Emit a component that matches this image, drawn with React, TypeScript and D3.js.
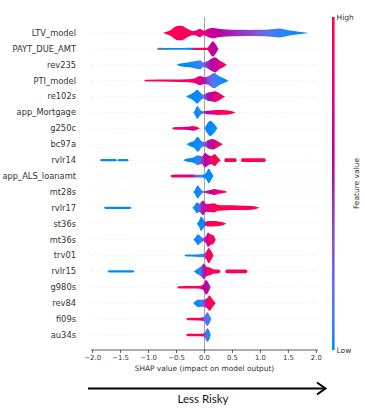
import React, { useMemo } from 'react'
import * as d3 from 'd3'

// [shap value, density 0..1, feature value 0..1 (null = missing)]
type Knot = [number, number, number | null]

const features = [
  'LTV_model', 'PAYT_DUE_AMT', 'rev235', 'PTI_model', 're102s', 'app_Mortgage', 'g250c',
  'bc97a', 'rvlr14', 'app_ALS_loanamt', 'mt28s', 'rvlr17', 'st36s', 'mt36s', 'trv01',
  'rvlr15', 'g980s', 'rev84', 'fi09s', 'au34s',
]

const ltvModel: Knot[] = [
  [-0.74, 0, 1], [-0.68, 0.15, 1], [-0.6, 0.4, 1], [-0.54, 0.75, 1], [-0.47, 0.97, 0.97],
  [-0.41, 0.97, 0.96], [-0.35, 0.75, 0.95], [-0.28, 0.45, 0.92], [-0.2, 0.25, 0.88], [-0.14, 0.35, 0.85],
  [-0.08, 0.55, 0.82], [-0.02, 0.3, 0.78], [0.05, 0.5, 0.7], [0.14, 0.7, 0.65],
  [0.25, 0.55, 0.6], [0.4, 0.45, 0.52], [0.6, 0.42, 0.45], [0.8, 0.4, 0.38], [1.0, 0.42, 0.25],
  [1.15, 0.45, 0.15], [1.34, 0.58, 0.05], [1.5, 0.35, 0.02], [1.65, 0.2, 0], [1.8, 0.08, 0],
  [1.86, 0, 0],
]
const paytDueAmt: Knot[] = [
  [-0.85, 0, null], [-0.82, 0.15, null], [-0.76, 0.15, null], [-0.74, 0.12, 0], [-0.4, 0.12, 0],
  [-0.22, 0.14, 0], [-0.2, 0.14, 1], [0.05, 0.14, 1], [0.09, 0.5, 0.7], [0.15, 1.0, 0.6],
  [0.2, 0.6, 0.6], [0.25, 0, 0.6],
]
const rev235: Knot[] = [
  [-0.5, 0, 0], [-0.45, 0.15, 0], [-0.3, 0.3, 0], [-0.18, 0.45, 0.02], [-0.08, 0.6, 0.05],
  [-0.02, 0.3, 0.2], [0.05, 0.45, 0.45], [0.12, 0.8, 0.55], [0.19, 1.0, 0.6], [0.27, 0.55, 0.75],
  [0.35, 0.25, 0.95], [0.4, 0, 1],
]
const ptiModel: Knot[] = [
  [-1.08, 0, 1], [-1.05, 0.12, 1], [-0.6, 0.14, 1], [-0.3, 0.2, 0.95], [-0.18, 0.3, 0.9],
  [-0.08, 0.6, 0.75], [0.0, 0.45, 0.5], [0.08, 0.6, 0.3], [0.17, 1.0, 0.1], [0.26, 0.6, 0.03],
  [0.35, 0.3, 0], [0.43, 0, 0],
]
const re102s: Knot[] = [
  [-0.33, 0, 0], [-0.28, 0.2, 0], [-0.2, 0.5, 0], [-0.13, 0.9, 0], [-0.07, 0.5, 0.02],
  [-0.02, 0.25, 0.2], [0.05, 0.5, 0.5], [0.12, 0.6, 0.6], [0.19, 0.7, 0.75], [0.27, 0.45, 0.95],
  [0.33, 0.15, 1], [0.37, 0, 1],
]
const appMortgage: Knot[] = [
  [-0.2, 0, 0], [-0.17, 0.3, 0], [-0.13, 0.85, 0], [-0.08, 0.4, 0.05], [-0.03, 0.15, 0.3],
  [0.05, 0.22, 0.55], [0.15, 0.28, 0.75], [0.25, 0.32, 0.95], [0.38, 0.3, 1], [0.48, 0.2, 1],
  [0.56, 0, 1],
]
const g250c: Knot[] = [
  [-0.58, 0, 0.9], [-0.55, 0.15, 0.95], [-0.4, 0.18, 0.9], [-0.28, 0.2, 0.6], [-0.2, 0.3, 0.8],
  [-0.12, 0.15, 0.9], [-0.07, 0, 0.8], [0.0, 0, 0], [0.03, 0.4, 0], [0.1, 1.0, 0],
  [0.17, 0.6, 0], [0.23, 0, 0],
]
const bc97a: Knot[] = [
  [-0.32, 0, 0], [-0.26, 0.25, 0], [-0.18, 0.5, 0], [-0.12, 1.0, 0], [-0.06, 0.45, 0.05],
  [0.0, 0.25, 0.3], [0.07, 0.55, 0.5], [0.15, 0.7, 0.65], [0.22, 0.45, 0.9], [0.28, 0.2, 1],
  [0.33, 0, 1],
]
const rvlr14: Knot[] = [
  [-1.87, 0, 0], [-1.84, 0.15, 0], [-1.6, 0.15, 0], [-1.56, 0.05, 0], [-1.52, 0.15, 0],
  [-1.38, 0.15, 0], [-1.35, 0, 0], [-0.38, 0, 0], [-0.34, 0.15, 0], [-0.2, 0.35, 0],
  [-0.12, 0.65, 0.05], [-0.05, 0.5, 0.35], [0.01, 0.95, 0.55], [0.08, 0.6, 0.7],
  [0.13, 0.55, 0.85], [0.18, 0.8, 0.95], [0.24, 0.35, 1], [0.3, 0, 1], [0.35, 0, 1],
  [0.37, 0.25, 1], [0.56, 0.25, 1], [0.58, 0, 1], [0.65, 0, 1], [0.67, 0.25, 1],
  [1.07, 0.25, 1], [1.1, 0, 1],
]
const appAlsLoanamt: Knot[] = [
  [-0.61, 0, 0.9], [-0.58, 0.18, 1], [-0.45, 0.2, 0.7], [-0.35, 0.2, 0.9], [-0.25, 0.2, 0.6],
  [-0.15, 0.18, 0.3], [-0.05, 0.18, 0.05], [0.02, 0.35, 0], [0.08, 0.95, 0], [0.12, 0.5, 0],
  [0.16, 0, 0],
]
const mt28s: Knot[] = [
  [-0.2, 0, 0], [-0.17, 0.3, 0], [-0.12, 0.85, 0], [-0.07, 0.4, 0.05], [-0.02, 0.12, 0.2],
  [0.05, 0.2, 0.5], [0.12, 0.3, 0.65], [0.18, 0.4, 0.75], [0.26, 0.25, 0.9], [0.35, 0.15, 1],
  [0.41, 0, 1],
]
const rvlr17: Knot[] = [
  [-1.8, 0, 0], [-1.77, 0.15, 0], [-1.33, 0.15, 0], [-1.3, 0, 0], [-0.22, 0, 0],
  [-0.18, 0.3, 0], [-0.14, 0.7, 0], [-0.09, 0.55, 0.3], [-0.03, 0.95, 0.5], [0.03, 0.5, 0.75],
  [0.1, 0.55, 0.9], [0.17, 0.6, 1], [0.24, 0.38, 1], [0.4, 0.33, 1], [0.6, 0.3, 1],
  [0.85, 0.24, 1], [0.99, 0, 1],
]
const st36s: Knot[] = [
  [-0.14, 0, 0], [-0.1, 0.35, 0], [-0.06, 0.95, 0], [-0.02, 0.6, 0.02], [0.02, 0.25, 0.5],
  [0.06, 0.35, 1], [0.15, 0.35, 1], [0.25, 0.3, 1], [0.33, 0.2, 1], [0.39, 0, 1],
]
const mt36s: Knot[] = [
  [-0.2, 0, 0], [-0.16, 0.3, 0], [-0.12, 0.7, 0], [-0.07, 0.45, 0.05], [-0.02, 0.2, 0.3],
  [0.03, 0.5, 0.6], [0.06, 0.95, 0.7], [0.11, 0.7, 0.9], [0.16, 0.55, 1], [0.2, 0, 1],
]
const trv01: Knot[] = [
  [-0.36, 0, 0], [-0.33, 0.12, 0], [-0.15, 0.15, 0], [-0.05, 0.2, 0.05], [0.0, 0.3, 0.3],
  [0.04, 0.6, 0.8], [0.07, 1.0, 0.95], [0.12, 0.6, 1], [0.16, 0, 1],
]
const rvlr15: Knot[] = [
  [-1.73, 0, 0], [-1.7, 0.15, 0], [-1.28, 0.15, 0], [-1.25, 0, 0], [-0.2, 0, 0],
  [-0.14, 0.3, 0], [-0.07, 0.6, 0.05], [-0.01, 1.0, 0.5], [0.04, 0.6, 0.8], [0.1, 0.5, 1],
  [0.15, 0.3, 1], [0.26, 0.25, 1], [0.29, 0, 1], [0.37, 0, 1], [0.39, 0.25, 1],
  [0.74, 0.25, 1], [0.77, 0, 1],
]
const g980s: Knot[] = [
  [-0.49, 0, 1], [-0.46, 0.15, 1], [-0.2, 0.17, 1], [-0.08, 0.2, 0.9], [-0.02, 0.4, 0.7],
  [0.03, 0.95, 0.6], [0.07, 0.6, 0.5], [0.11, 0, 0.5],
]
const rev84: Knot[] = [
  [-0.2, 0, 0], [-0.16, 0.3, 0], [-0.11, 0.5, 0], [-0.05, 0.45, 0.1], [0.0, 0.5, 0.4],
  [0.05, 0.7, 0.8], [0.09, 1.0, 1], [0.14, 0.55, 1], [0.2, 0, 1],
]
const fi09s: Knot[] = [
  [-0.33, 0, 1], [-0.3, 0.15, 1], [-0.12, 0.17, 1], [-0.05, 0.2, 0.7], [0.0, 0.35, 0.3],
  [0.05, 0.9, 0.1], [0.09, 0.5, 0.05], [0.12, 0, 0],
]
const au34s: Knot[] = [
  [-0.33, 0, 1], [-0.3, 0.15, 1], [-0.1, 0.17, 1], [-0.02, 0.2, 0.9], [0.01, 0.4, 0.3],
  [0.05, 0.9, 0.05], [0.09, 0.5, 0], [0.11, 0, 0],
]

const violins = [
  ltvModel, paytDueAmt, rev235, ptiModel, re102s, appMortgage, g250c, bc97a, rvlr14,
  appAlsLoanamt, mt28s, rvlr17, st36s, mt36s, trv01, rvlr15, g980s, rev84, fi09s, au34s,
]

const xTicks = [-2, -1.5, -1, -0.5, 0, 0.5, 1, 1.5, 2]

const W = 365
const H = 418
const font = '"DejaVu Sans", sans-serif'

// shap red_blue colormap, approximated in HCL
const colour = d3.scaleLinear<string>()
  .domain([0, 0.5, 1])
  .range(['#008bfb', d3.hcl(323.6, 80, 40).formatHex(), '#ff0052'])
  .interpolate(d3.interpolateHcl)

const App = () => {
  const x = useMemo(() => d3.scaleLinear().domain([-2.03, 2.03]).range([91, 318]), [])
  const y = useMemo(() => d3.scalePoint<string>().domain(features).range([33, 335]), [])
  const w = d3.scaleLinear().domain([0, 1]).range([0, 7.6])
  const axisY = 350
  const top = 17

  const shapes = features.map((f, i) => {
    const knots = violins[i]
    const yc = y(f) as number
    const area = d3.area<Knot>()
      .x(d => x(d[0]))
      .y0(d => yc - w(d[1]))
      .y1(d => yc + w(d[1]))
      .curve(d3.curveMonotoneX)
    const x1 = x(knots[0][0])
    const x2 = x(knots[knots.length - 1][0])
    const stops = knots.map(k => ({
      offset: (x(k[0]) - x1) / (x2 - x1),
      color: k[2] === null ? '#777777' : colour(k[2]),
    }))
    return { f, yc, d: area(knots) as string, x1, x2, stops }
  })

  const fmt = d3.format('.1f')

  return (
    <svg width={W} height={H} style={{ position: 'absolute', left: 0, top: 0, background: '#fff' }}>
      <defs>
        {shapes.map((s, i) => (
          <linearGradient key={s.f} id={`vg${i}`} gradientUnits="userSpaceOnUse" x1={s.x1} x2={s.x2} y1={0} y2={0}>
            {s.stops.map((st, j) => <stop key={j} offset={st.offset} stopColor={st.color} />)}
          </linearGradient>
        ))}
        <linearGradient id="cbar" x1={0} x2={0} y1={1} y2={0}>
          {d3.range(0, 1.01, 0.1).map(t => <stop key={t} offset={t} stopColor={colour(t)} />)}
        </linearGradient>
      </defs>

      {/* row guides */}
      {shapes.map(s => (
        <line key={s.f} x1={x.range()[0]} x2={x.range()[1]} y1={s.yc} y2={s.yc}
          stroke="#cccccc" strokeWidth={0.6} strokeDasharray="0.6,2" />
      ))}
      <line x1={x(0)} x2={x(0)} y1={top} y2={axisY} stroke="#999" strokeWidth={0.9} />

      {shapes.map((s, i) => <path key={s.f} d={s.d} fill={`url(#vg${i})`} />)}

      {shapes.map(s => (
        <text key={s.f} x={76} y={s.yc} dy="0.35em" textAnchor="end" fontFamily={font} fontSize={8.3} fill="#333">{s.f}</text>
      ))}

      {/* x axis */}
      <line x1={x.range()[0]} x2={x.range()[1]} y1={axisY} y2={axisY} stroke="#333" strokeWidth={0.8} />
      {xTicks.map(t => (
        <g key={t} transform={`translate(${x(t)},${axisY})`}>
          <line y2={3} stroke="#333" strokeWidth={0.8} />
          <text y={9.8} textAnchor="middle" fontFamily={font} fontSize={6.9} fill="#333">{fmt(t)}</text>
        </g>
      ))}
      <text x={x(0)} y={371} textAnchor="middle" fontFamily={font} fontSize={7.4} fill="#333">
        SHAP value (impact on model output)
      </text>

      {/* colour bar */}
      <rect x={332} y={top} width={2.6} height={axisY - top} fill="url(#cbar)" />
      <text x={336.5} y={top} dy="0.35em" fontFamily={font} fontSize={7.5} fill="#333">High</text>
      <text x={336.5} y={axisY} dy="0.35em" fontFamily={font} fontSize={7.5} fill="#333">Low</text>
      <text transform={`translate(359,${(top + axisY) / 2}) rotate(-90)`} textAnchor="middle" fontFamily={font} fontSize={7.5} fill="#333">
        Feature value
      </text>

      {/* direction arrow */}
      <line x1={88} x2={325} y1={388.5} y2={388.5} stroke="#000" strokeWidth={2} />
      <path d="M317,382.5 L325.5,388.5 L317,394.5" fill="none" stroke="#000" strokeWidth={2} />
      <text x={203} y={403} textAnchor="middle" fontFamily="Lato, sans-serif" fontSize={11.5} fill="#111">Less Risky</text>
    </svg>
  )
}

export default App
